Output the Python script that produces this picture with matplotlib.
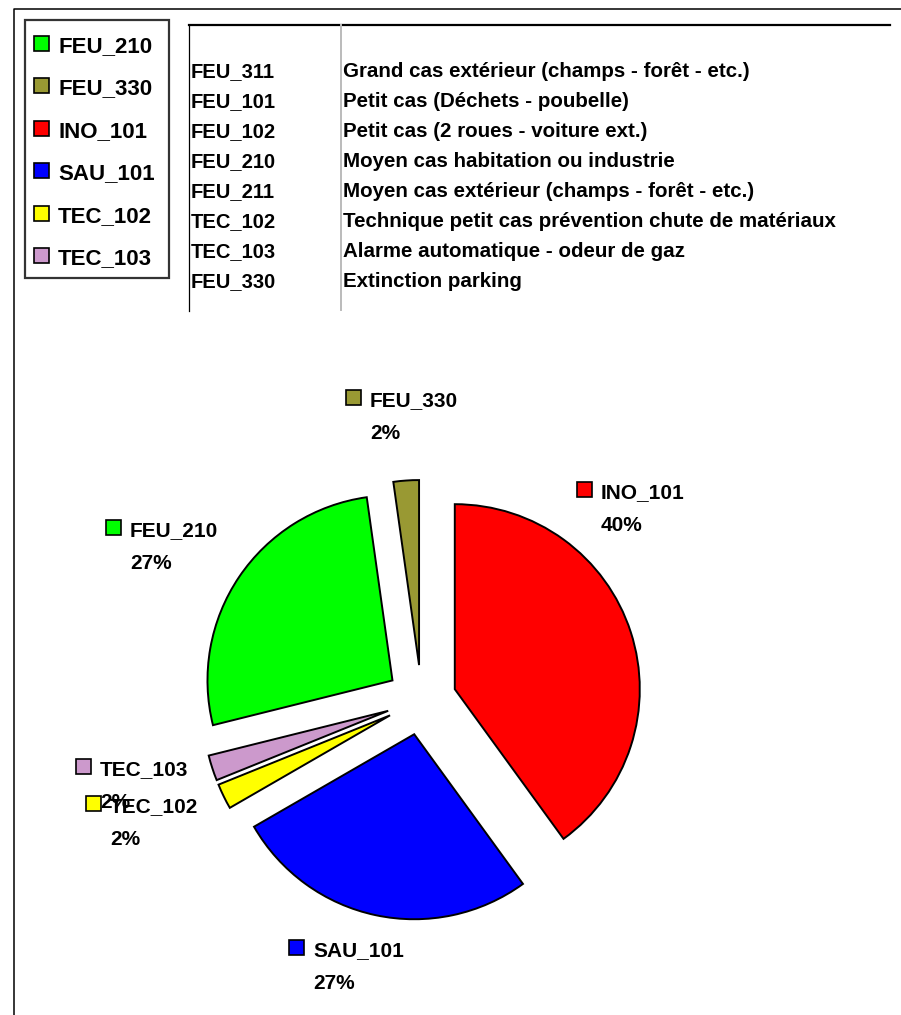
import matplotlib
matplotlib.use('Agg')
import matplotlib.pyplot as plt
from matplotlib.patches import Rectangle

plt.rcParams['font.family'] = ['Liberation Sans', 'DejaVu Sans']
plt.rcParams['font.weight'] = 'bold'

# données
categories = ['FEU_210', 'FEU_330', 'INO_101', 'SAU_101', 'TEC_102', 'TEC_103']
valeurs = [12, 1, 18, 12, 1, 1]
couleurs = ['#00FF00', '#999933', '#FF0000', '#0000FF', '#FFFF00', '#CC99CC']

codes = ['FEU_311', 'FEU_101', 'FEU_102', 'FEU_210', 'FEU_211', 'TEC_102', 'TEC_103', 'FEU_330']
descriptions = [
    'Grand cas extérieur (champs - forêt - etc.)',
    'Petit cas (Déchets - poubelle)',
    'Petit cas (2 roues - voiture ext.)',
    'Moyen cas habitation ou industrie',
    'Moyen cas extérieur (champs - forêt - etc.)',
    'Technique petit cas prévention chute de matériaux',
    'Alarme automatique - odeur de gaz',
    'Extinction parking',
]

W, H = 901, 1015
fig = plt.figure(figsize=(W / 100, H / 100), dpi=100)
ax = fig.add_axes([0, 0, 1, 1])


def Y(y):
    # coordonnées image (y vers le bas) -> axes (y vers le haut)
    return H - y


total = sum(valeurs)
# la part INO_101 commence a midi
start = 90 + 360 * (valeurs[0] + valeurs[1]) / total
ax.pie(valeurs, colors=couleurs, startangle=start, counterclock=False,
       center=(421.5, Y(700)), radius=185, explode=[35] * len(valeurs),
       wedgeprops=dict(edgecolor='black', linewidth=1.4))

ax.set_xlim(0, W)
ax.set_ylim(0, H)
ax.axis('off')

# cadre exterieur
ax.plot([14, 14, W], [Y(H), Y(9), Y(9)], color='black', lw=1.1)

# tableau des codes
ax.plot([189, 890], [Y(25), Y(25)], color='black', lw=1.6)
ax.plot([189, 189], [Y(25), Y(311)], color='black', lw=0.9)
ax.plot([341, 341], [Y(25), Y(310)], color='#bbbbbb', lw=1.4)
for i, (c, d) in enumerate(zip(codes, descriptions)):
    yb = Y(77 + 29.95 * i)
    ax.text(191, yb, c, fontsize=14.5, va='baseline', ha='left')
    ax.text(343, yb, d, fontsize=14.8, va='baseline', ha='left')

# legende
ax.add_patch(Rectangle((25, Y(278)), 144, 258, fill=False, edgecolor='#333333', lw=1.6))
for i, (cat, col) in enumerate(zip(categories, couleurs)):
    yb = 52 + 42.4 * i
    ax.add_patch(Rectangle((34, Y(yb - 1)), 15, 15, facecolor=col, edgecolor='black', lw=1.2))
    ax.text(58, Y(yb), cat, fontsize=16, va='baseline', ha='left')

# etiquettes du camembert (x texte, ligne de base du nom)
etiquettes = [(130, 536), (370, 406), (601, 498), (313, 956), (110, 812), (100, 775)]
for cat, col, v, (xt, yb) in zip(categories, couleurs, valeurs, etiquettes):
    ax.add_patch(Rectangle((xt - 24, Y(yb - 1)), 15, 15, facecolor=col, edgecolor='black', lw=1.2))
    ax.text(xt, Y(yb), cat, fontsize=15, va='baseline', ha='left')
    ax.text(xt, Y(yb + 33), f'{round(100 * v / total)}%', fontsize=15, va='baseline', ha='left')

fig.savefig('out.png', dpi=100)
